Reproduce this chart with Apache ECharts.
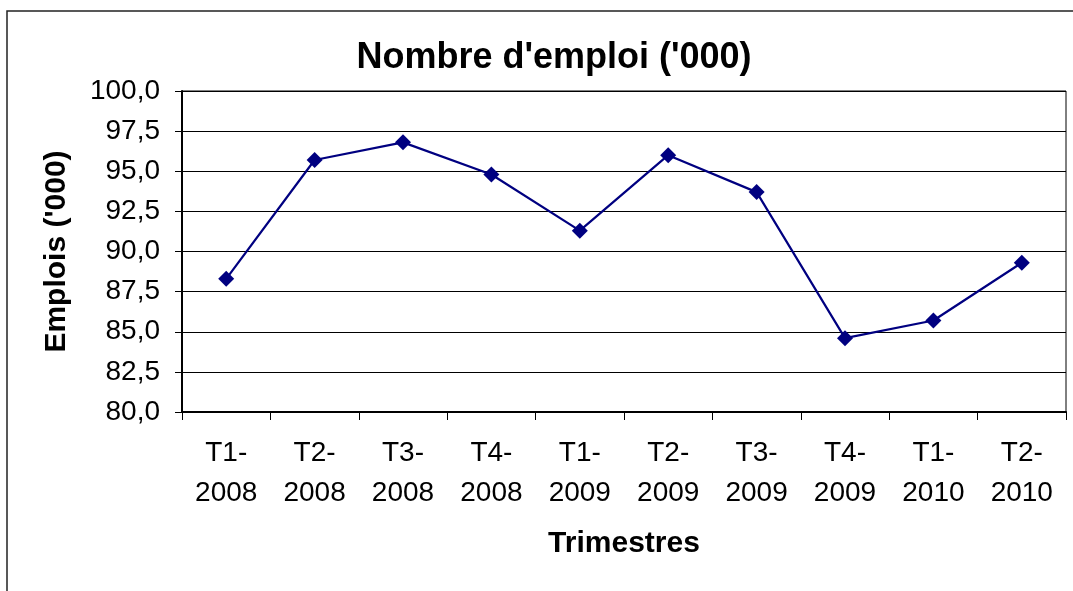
<!DOCTYPE html>
<html>
<head>
<meta charset="utf-8">
<script src="https://cdn.jsdelivr.net/npm/echarts@6/dist/echarts.min.js"></script>
<style>
  html, body { margin: 0; padding: 0; background: #fff; }
  #chart { width: 1073px; height: 591px; }
</style>
</head>
<body>
<div id="chart"></div>
<script>
// trimestres (x axis)
var categories = ['T1-\n2008', 'T2-\n2008', 'T3-\n2008', 'T4-\n2008', 'T1-\n2009',
                  'T2-\n2009', 'T3-\n2009', 'T4-\n2009', 'T1-\n2010', 'T2-\n2010'];
// nombre d'emplois ('000)
var emplois = [88.3, 95.7, 96.8, 94.8, 91.3, 96.0, 93.7, 84.6, 85.7, 89.3];
// y axis range
var yMin = 80, yMax = 100, yStep = 2.5;

var font = 'Liberation Sans, Arial, sans-serif';
var chart = echarts.init(document.getElementById('chart'));

chart.setOption({
    animation: false,
    backgroundColor: '#fff',
    graphic: [{
        type: 'rect',
        shape: { x: 7, y: 11, width: 1200, height: 800 },
        style: { fill: 'none', stroke: '#222', lineWidth: 1.5 },
        silent: true
    }],
    title: {
        text: "Nombre d'emploi ('000)",
        left: 549,
        textAlign: 'center',
        top: 35,
        textStyle: { fontFamily: font, fontSize: 36, fontWeight: 'bold', color: '#000' }
    },
    grid: {
        left: 182, right: 7, top: 91, bottom: 179,
        show: true, borderColor: '#000', borderWidth: 1
    },
    xAxis: {
        type: 'category',
        data: categories,
        boundaryGap: true,
        name: 'Trimestres',
        nameLocation: 'middle',
        nameGap: 117,
        nameTextStyle: { fontFamily: font, fontSize: 30, fontWeight: 'bold', color: '#000' },
        axisLine: { lineStyle: { color: '#000', width: 2 } },
        axisTick: { show: true, length: 8, lineStyle: { color: '#000' } },
        axisLabel: {
            fontFamily: font, fontSize: 28, color: '#000',
            lineHeight: 40, margin: 21, interval: 0
        }
    },
    yAxis: {
        type: 'value',
        min: yMin, max: yMax, interval: yStep,
        name: "Emplois ('000)",
        nameLocation: 'middle',
        nameGap: 110,
        nameTextStyle: { fontFamily: font, fontSize: 30, fontWeight: 'bold', color: '#000' },
        axisLine: { show: true, lineStyle: { color: '#000', width: 2 } },
        axisTick: { show: true, length: 7, lineStyle: { color: '#000' } },
        axisLabel: {
            fontFamily: font, fontSize: 28, color: '#000', margin: 22,
            formatter: function (v) { return v.toFixed(1).replace('.', ','); }
        },
        splitLine: { lineStyle: { color: '#000', width: 1 } }
    },
    series: [{
        type: 'line',
        data: emplois,
        symbol: 'diamond',
        symbolSize: 16,
        itemStyle: { color: '#000080' },
        lineStyle: { color: '#000080', width: 2.2 }
    }]
});
</script>
</body>
</html>
